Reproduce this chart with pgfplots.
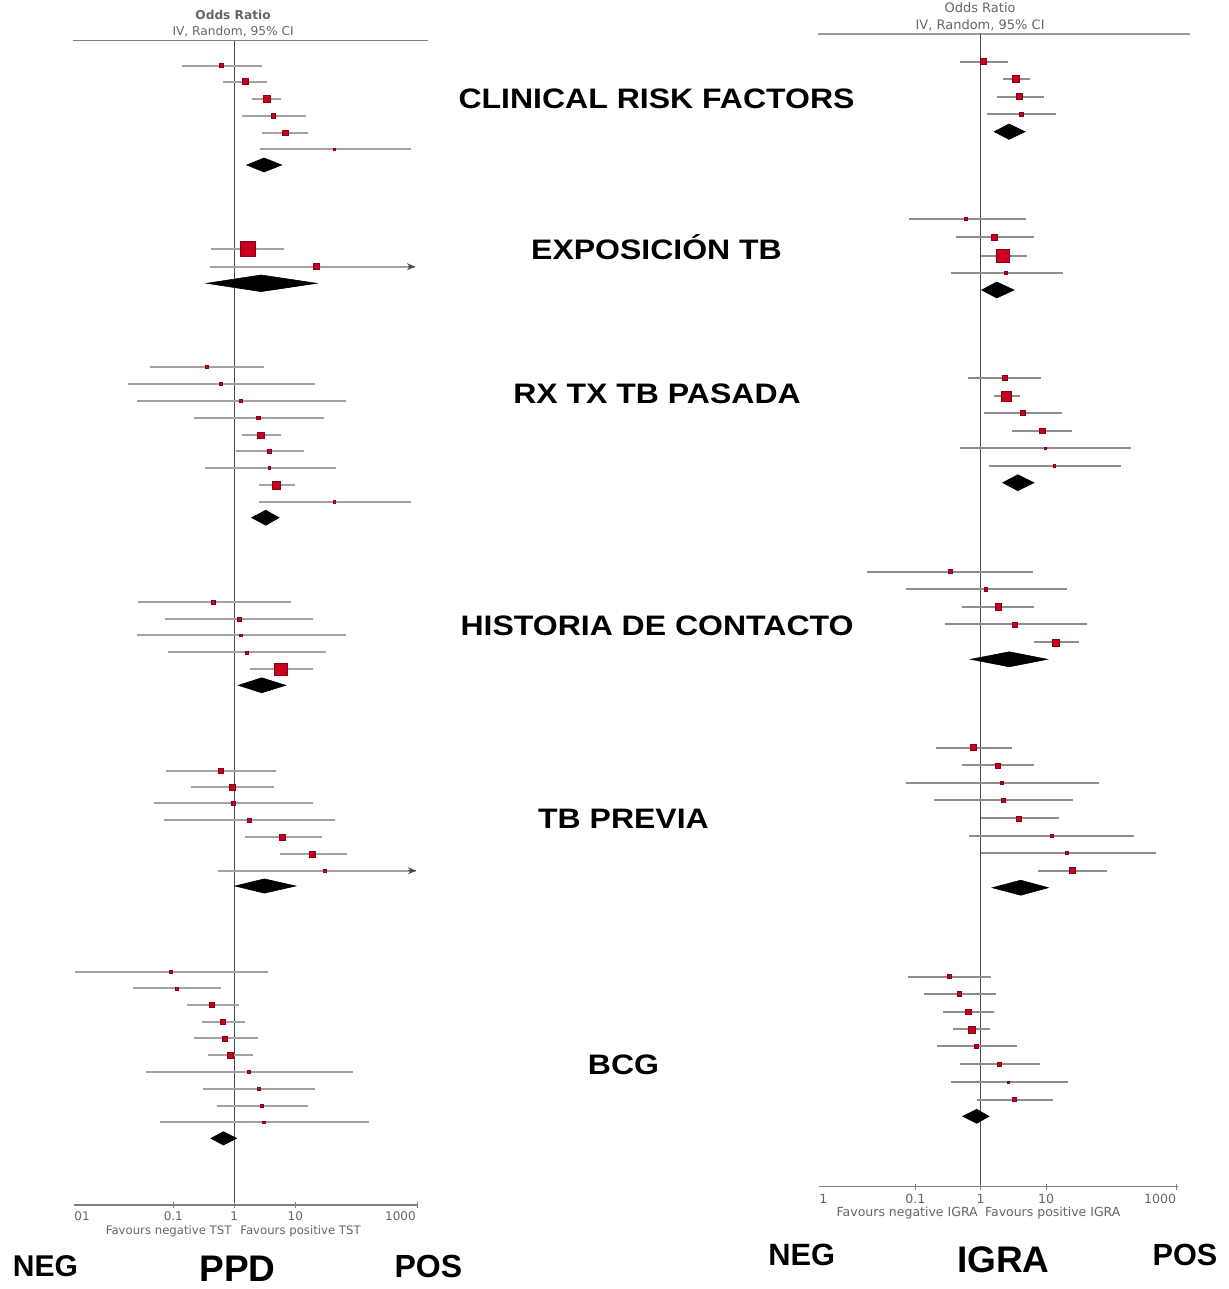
\documentclass[border=0pt]{standalone}
\usepackage{fontspec}
\setmainfont{Liberation Sans}
\newfontfamily\dejavu{DejaVu Sans}
\usepackage{graphicx}
\usepackage{pgfplots}
\usepackage{pgfplotstable}
\pgfplotsset{compat=1.18}
\usetikzlibrary{arrows.meta}
\definecolor{sqred}{HTML}{C8001E}
\definecolor{sqedge}{HTML}{8A0014}
\definecolor{cigray}{HTML}{A2A2A2}
\definecolor{cigrayR}{HTML}{8E8E8E}
\definecolor{axgray}{HTML}{808080}
\definecolor{vgray}{HTML}{4A4A4A}
\definecolor{txtgray}{HTML}{666666}

\newcommand{\catlab}[1]{{\fontsize{16pt}{16pt}\selectfont\bfseries\scalebox{1}[0.88]{#1}}}

% left forest plot (PPD / TST): y = row position, e = log10(OR), lo/hi = log10 CI, s = box size
\pgfplotstableread{
y e lo hi s
65.7 -0.207 -0.862 0.459 4
81.7 0.187 -0.180 0.541 6
99 0.531 0.285 0.766 6.7
116 0.639 0.121 1.170 4.7
132.7 0.836 0.459 1.213 5.3
149.3 1.639 0.421 2.892 2.5
249.3 0.216 -0.382 0.815 15
266.7 1.344 -0.398 2.962 6
366.7 -0.452 -1.382 0.487 3
383.7 -0.218 -1.748 1.323 2.5
401 0.105 -1.600 1.831 2.5
417.7 0.393 -0.661 1.470 3.5
435.3 0.433 0.121 0.766 6.7
451.3 0.574 0.023 1.143 4.7
467.7 0.574 -0.480 1.667 2.5
485.3 0.689 0.410 0.995 7.3
501.7 1.639 0.410 2.897 2.5
602 -0.338 -1.584 0.930 4
619.3 0.077 -1.136 1.295 4
635.3 0.105 -1.600 1.826 2.5
652.3 0.203 -1.092 1.498 3
669.3 0.761 0.257 1.295 12.7
770.7 -0.223 -1.120 0.684 5
787 -0.033 -0.710 0.651 6
803.3 -0.016 -1.311 1.295 4
820 0.246 -1.152 1.651 4
837.3 0.787 0.175 1.433 6
854 1.279 0.749 1.843 6
870.7 1.487 -0.262 2.979 3
971.7 -1.038 -2.611 0.557 2.5
988.3 -0.944 -1.656 -0.218 3
1005 -0.361 -0.780 0.077 5
1021.7 -0.190 -0.534 0.175 5
1038.3 -0.152 -0.661 0.384 5
1055.3 -0.070 -0.436 0.302 6
1072 0.241 -1.452 1.941 2.5
1089 0.405 -0.508 1.323 3
1105.7 0.449 -0.289 1.213 3.5
1122.3 0.487 -1.218 2.208 2.5
}\lefttab

% right forest plot (IGRA)
\pgfplotstableread{
y e lo hi s
61.7 0.040 -0.317 0.413 6
79 0.541 0.337 0.755 7.3
96.7 0.591 0.245 0.974 6
114.3 0.617 0.101 1.149 4
219.3 -0.230 -1.098 0.689 3
237.3 0.204 -0.383 0.821 5.5
255.7 0.337 0.005 0.704 12.7
272.7 0.387 -0.455 1.265 3.5
378 0.372 -0.190 0.923 5
396 0.392 0.208 0.602 10
413 0.637 0.055 1.250 5
430.7 0.939 0.475 1.403 5.5
448.3 0.985 -0.317 2.297 2.5
465.7 1.127 0.127 2.144 2.5
571.7 -0.470 -1.737 0.806 4
589.3 0.081 -1.149 1.317 3.5
606.7 0.270 -0.282 0.821 6.5
624.3 0.515 -0.547 1.623 5
642.3 1.153 0.821 1.510 7
747.7 -0.113 -0.685 0.484 6
765.3 0.260 -0.282 0.821 5
782.7 0.322 -1.149 1.816 3
800 0.346 -0.715 1.409 4
818.3 0.576 0.005 1.199 5
835.7 1.087 -0.179 2.348 3.5
852.7 1.317 0.005 2.680 3.5
870.7 1.403 0.873 1.930 6
976.7 -0.485 -1.109 0.158 4
994 -0.328 -0.868 0.230 4.5
1011.7 -0.194 -0.582 0.204 5.5
1029.3 -0.144 -0.420 0.142 7
1046.3 -0.061 -0.674 0.560 4
1064 0.280 -0.317 0.908 4
1082.3 0.423 -0.459 1.332 2.5
1099.7 0.510 -0.061 1.112 4
}\righttab

\pgfplotsset{
  forest/.style={scale only axis, axis lines=none, y dir=reverse,
    ymin=0, ymax=1289, height=644.5pt, clip=false, anchor=south west},
  cis/.style={draw=none, mark=none, forget plot,
    error bars/.cd, x dir=both, x explicit, error mark=none,
    error bar style={draw=#1, line width=1.05pt}},
  boxes/.style={scatter, only marks, mark=square*,
    scatter/use mapped color={draw=sqedge, fill=sqred},
    visualization depends on={0.25*\thisrow{s} \as \ms},
    scatter/@pre marker code/.append style={/tikz/mark size=\ms pt},
    mark options={line width=0.3pt}},
  diam/.style={fill=black, draw=black, line width=0.3pt, mark=none},
}
\tikzset{ticklab/.style={font=\dejavu\fontsize{#1}{7pt}\selectfont, text=txtgray, inner sep=0pt}}

\begin{document}
\begin{tikzpicture}
\path[use as bounding box] (0,0) rectangle (614.5pt,644.5pt);

% ---------------- left plot ----------------
\begin{axis}[forest, at={(36.5pt,0pt)}, width=177.5pt, xmin=-2.644, xmax=3.175]
\addplot[draw=axgray, line width=0.8pt] coordinates {(-2.644,40.7) (3.175,40.7)};
\addplot[draw=vgray, line width=0.6pt] coordinates {(0,40.7) (0,1205)};
\addplot[draw=axgray, line width=0.6pt] coordinates {(-2.628,1205) (3.011,1205)};
\addplot[only marks, mark=|, mark size=1.6pt, mark options={draw=axgray, line width=0.5pt}] coordinates {(-1,1205) (0,1205) (1,1205) (3,1205)};
\addplot[cis=cigray] table[x=e, y=y, x error plus expr=\thisrow{hi}-\thisrow{e}, x error minus expr=\thisrow{e}-\thisrow{lo}] \lefttab;
\addplot[draw=black!70, line width=0.6pt, -{Stealth[length=4pt,width=3.5pt]}] coordinates {(2.85,266.7) (2.962,266.7)};
\addplot[draw=black!70, line width=0.6pt, -{Stealth[length=4pt,width=3.5pt]}] coordinates {(2.85,870.7) (2.979,870.7)};
\addplot[boxes] table[x=e, y=y] \lefttab;
\addplot[diam] coordinates {(0.203,165) (0.487,158) (0.777,165) (0.487,172)} -- cycle;
\addplot[diam] coordinates {(-0.452,283.3) (0.438,275) (1.351,283.3) (0.438,291.6)} -- cycle;
\addplot[diam] coordinates {(0.285,517.7) (0.515,510.2) (0.733,517.7) (0.515,525.2)} -- cycle;
\addplot[diam] coordinates {(0.066,685.3) (0.449,677.8) (0.843,685.3) (0.449,692.8)} -- cycle;
\addplot[diam] coordinates {(0.011,886) (0.492,878.9) (1.007,886) (0.492,893.1)} -- cycle;
\addplot[diam] coordinates {(-0.382,1138.3) (-0.180,1131.7) (0.039,1138.3) (-0.180,1145)} -- cycle;
\node[font=\dejavu\bfseries\fontsize{6.1pt}{7pt}\selectfont, text=txtgray] at (axis cs:-0.02,15) {Odds Ratio};
\node[font=\dejavu\fontsize{6.1pt}{7pt}\selectfont, text=txtgray] at (axis cs:-0.02,32) {IV, Random, 95\% CI};
\node[ticklab=6pt, anchor=west] at (axis cs:-2.628,1216) {01};
\node[ticklab=6pt] at (axis cs:-1,1216) {0.1};
\node[ticklab=6pt] at (axis cs:0,1216) {1};
\node[ticklab=6pt] at (axis cs:1,1216) {10};
\node[ticklab=6pt, anchor=east] at (axis cs:2.98,1216) {1000};
\node[anchor=east, inner sep=0pt, font=\dejavu\fontsize{5.85pt}{7pt}\selectfont, text=txtgray] at (axis cs:-0.04,1231) {Favours negative TST};
\node[anchor=west, inner sep=0pt, font=\dejavu\fontsize{5.85pt}{7pt}\selectfont, text=txtgray] at (axis cs:0.093,1231) {Favours positive TST};
\end{axis}

% ---------------- right plot ----------------
\begin{axis}[forest, at={(409pt,0pt)}, width=186pt, xmin=-2.492, xmax=3.205]
\addplot[draw=axgray!80, line width=0.8pt] coordinates {(-2.492,34.3) (3.205,34.3)};
\addplot[draw=vgray, line width=0.6pt] coordinates {(0,34.3) (0,1186.7)};
\addplot[draw=axgray, line width=0.6pt] coordinates {(-2.476,1186.7) (3.016,1186.7)};
\addplot[only marks, mark=|, mark size=1.6pt, mark options={draw=axgray, line width=0.5pt}] coordinates {(-1,1186.7) (0,1186.7) (1,1186.7) (3,1186.7)};
\addplot[cis=cigrayR] table[x=e, y=y, x error plus expr=\thisrow{hi}-\thisrow{e}, x error minus expr=\thisrow{e}-\thisrow{lo}] \righttab;
\addplot[boxes] table[x=e, y=y] \righttab;
\addplot[diam] coordinates {(0.208,131.7) (0.433,124) (0.678,131.7) (0.433,139.4)} -- cycle;
\addplot[diam] coordinates {(0.015,290) (0.245,282) (0.510,290) (0.245,298)} -- cycle;
\addplot[diam] coordinates {(0.337,482.7) (0.567,474.7) (0.816,482.7) (0.567,490.7)} -- cycle;
\addplot[diam] coordinates {(-0.153,659.3) (0.438,651.8) (1.020,659.3) (0.438,666.8)} -- cycle;
\addplot[diam] coordinates {(0.178,887.7) (0.613,880.2) (1.035,887.7) (0.613,895.2)} -- cycle;
\addplot[diam] coordinates {(-0.276,1116.3) (-0.061,1109.3) (0.127,1116.3) (-0.061,1123.3)} -- cycle;
\node[font=\dejavu\fontsize{6.5pt}{7.5pt}\selectfont, text=txtgray] at (axis cs:-0.01,7.3) {Odds Ratio};
\node[font=\dejavu\fontsize{6.5pt}{7.5pt}\selectfont, text=txtgray] at (axis cs:-0.01,25) {IV, Random, 95\% CI};
\node[ticklab=6.3pt, anchor=west] at (axis cs:-2.476,1198.5) {1};
\node[ticklab=6.3pt] at (axis cs:-1,1198.5) {0.1};
\node[ticklab=6.3pt] at (axis cs:0,1198.5) {1};
\node[ticklab=6.3pt] at (axis cs:1,1198.5) {10};
\node[ticklab=6.3pt, anchor=east] at (axis cs:3.0,1198.5) {1000};
\node[anchor=east, inner sep=0pt, font=\dejavu\fontsize{6.25pt}{7pt}\selectfont, text=txtgray] at (axis cs:-0.04,1213.5) {Favours negative IGRA};
\node[anchor=west, inner sep=0pt, font=\dejavu\fontsize{6.25pt}{7pt}\selectfont, text=txtgray] at (axis cs:0.06,1213.5) {Favours positive IGRA};
\end{axis}

% ---------------- category labels ----------------
\node[anchor=base] at (328.25pt,590pt) {\catlab{CLINICAL RISK FACTORS}};
\node[anchor=base] at (328.25pt,514.5pt) {\catlab{EXPOSICIÓN TB}};
\node[anchor=base] at (328.5pt,442.5pt) {\catlab{RX TX TB PASADA}};
\node[anchor=base] at (328.5pt,326.5pt) {\catlab{HISTORIA DE CONTACTO}};
\node[anchor=base] at (311.75pt,230pt) {\catlab{TB PREVIA}};
\node[anchor=base] at (311.75pt,107pt) {\catlab{BCG}};

% ---------------- bottom labels ----------------
\node[anchor=base, inner sep=0pt, font=\bfseries\fontsize{15pt}{15pt}\selectfont] at (22.75pt,6pt) {NEG};
\node[anchor=base, inner sep=0pt, font=\bfseries\fontsize{18.5pt}{18.5pt}\selectfont] at (118.75pt,3.65pt) {PPD};
\node[anchor=base, inner sep=0pt, font=\bfseries\fontsize{16pt}{16pt}\selectfont] at (214.15pt,5.85pt) {POS};
\node[anchor=base, inner sep=0pt, font=\bfseries\fontsize{15.4pt}{15.4pt}\selectfont] at (400.85pt,12pt) {NEG};
\node[anchor=base, inner sep=0pt, font=\bfseries\fontsize{18.5pt}{18.5pt}\selectfont] at (501.65pt,8.15pt) {IGRA};
\node[anchor=base, inner sep=0pt, font=\bfseries\fontsize{15.3pt}{15.3pt}\selectfont] at (592.5pt,12pt) {POS};
\end{tikzpicture}
\end{document}
